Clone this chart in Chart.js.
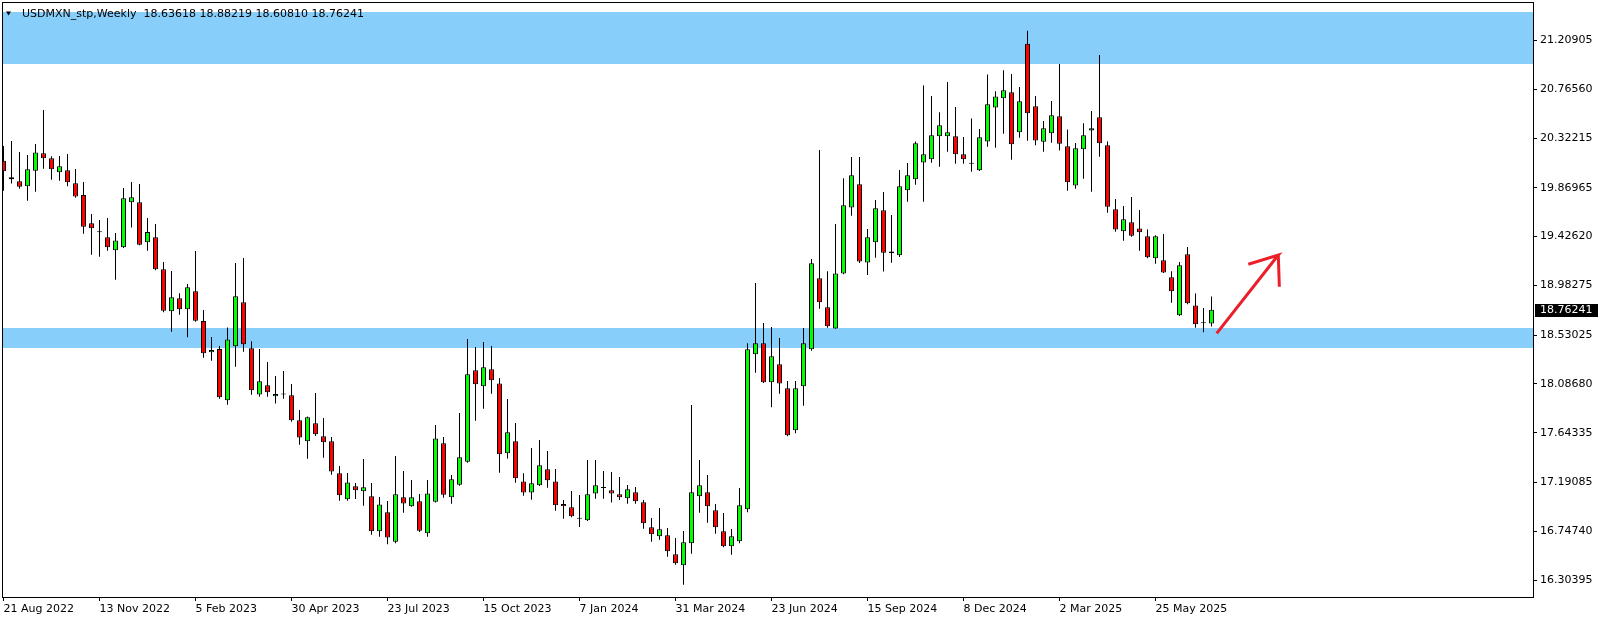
<!DOCTYPE html>
<html>
<head>
<meta charset="utf-8">
<title>USDMXN_stp,Weekly</title>
<script src="https://cdn.jsdelivr.net/npm/chart.js@4.4.0/dist/chart.umd.min.js"></script>
<style>
  html, body { margin: 0; padding: 0; background: #fff; }
  #wrap { width: 1604px; height: 622px; }
</style>
</head>
<body>
<div id="wrap"><canvas id="chart" width="1604" height="622"></canvas></div>
<script>
const symbolTitle = 'USDMXN_stp,Weekly';

// weekly candles, oldest first (21 Aug 2022 ... mid Jul 2025)
const opens = [
  20.117,19.965,19.929,19.883,20.026,20.183,20.138,20.011,20.029,19.911,
  19.805,19.547,19.465,19.420,19.302,19.329,19.738,19.738,19.374,19.420,
  19.129,18.747,18.865,18.765,18.929,18.659,18.374,18.405,17.938,18.429,
  18.829,18.411,17.992,18.074,17.974,17.992,17.983,17.756,17.565,17.729,
  17.611,17.565,17.274,17.038,17.156,17.111,17.065,16.747,16.920,16.653,
  17.056,16.974,17.020,16.729,17.017,17.547,17.056,17.171,17.380,18.211,
  18.065,18.220,18.092,17.456,17.565,17.201,17.101,17.165,17.311,17.201,
  16.995,16.965,16.862,16.847,17.092,17.141,17.120,17.083,17.047,17.102,
  17.011,16.783,16.702,16.711,16.538,16.438,16.638,17.065,17.102,16.938,
  16.747,16.611,16.656,16.947,18.356,18.456,18.102,18.265,18.047,17.665,
  18.065,18.402,19.047,18.783,18.592,19.092,19.692,19.902,19.192,19.374,
  19.665,19.274,19.256,19.847,19.947,20.101,20.129,20.338,20.338,20.338,
  20.174,20.089,20.029,20.292,20.601,20.683,20.738,20.374,21.180,20.611,
  20.289,20.365,20.520,20.247,19.892,20.220,20.392,20.511,20.256,19.674,
  19.474,19.556,19.501,19.429,19.229,19.211,19.056,18.711,19.265,18.801,
  18.638,18.63618
];
const highs = [
  20.250,20.295,20.195,20.168,20.268,20.577,20.156,20.159,20.177,20.041,
  19.923,19.632,19.577,19.595,19.459,19.868,19.923,19.905,19.595,19.541,
  19.195,19.114,18.911,18.995,19.295,18.759,18.514,18.432,18.601,19.186,
  19.232,18.474,18.405,18.286,18.159,18.205,18.086,17.850,17.792,18.004,
  17.777,17.604,17.341,17.277,17.186,17.405,17.186,17.059,17.023,17.432,
  17.295,17.214,17.086,17.214,17.714,17.605,17.259,17.823,18.495,18.423,
  18.468,18.432,18.141,17.950,17.732,17.274,17.505,17.577,17.477,17.314,
  17.032,17.114,17.077,17.395,17.395,17.295,17.286,17.241,17.168,17.150,
  17.032,16.868,16.959,16.777,16.686,16.750,17.895,17.395,17.259,16.995,
  16.914,16.768,17.141,18.456,19.005,18.641,18.605,18.505,18.114,18.114,
  18.595,19.223,20.214,19.111,19.541,19.956,20.150,20.150,19.495,19.759,
  19.832,19.623,20.032,20.095,20.292,20.801,20.704,20.556,20.832,20.604,
  20.332,20.501,20.404,20.901,20.747,20.938,20.904,20.786,21.298,20.704,
  20.477,20.659,20.995,20.401,20.277,20.456,20.568,21.077,20.292,19.768,
  19.705,19.786,19.668,19.492,19.438,19.450,19.111,19.195,19.332,18.908,
  18.777,18.88219
];
const lows = [
  19.844,19.908,19.862,19.753,19.835,20.044,19.944,19.935,19.883,19.780,
  19.453,19.262,19.244,19.298,19.035,19.323,19.508,19.347,19.298,19.120,
  18.738,18.562,18.717,18.511,18.653,18.326,18.298,17.953,17.898,18.244,
  18.380,17.989,17.971,17.971,17.908,17.953,17.744,17.535,17.407,17.614,
  17.417,17.262,17.026,17.026,17.041,16.980,16.717,16.698,16.629,16.638,
  16.917,16.971,16.741,16.698,17.008,17.053,16.998,17.162,17.371,17.753,
  17.862,17.998,17.280,17.408,17.189,17.071,17.035,17.159,17.144,16.935,
  16.862,16.874,16.786,16.842,17.044,17.044,17.008,17.032,16.998,16.998,
  16.771,16.653,16.671,16.517,16.444,16.262,16.544,16.917,16.826,16.726,
  16.602,16.535,16.638,16.920,18.189,18.095,17.874,17.998,17.611,17.638,
  17.889,18.389,18.771,18.598,18.588,19.085,19.617,19.186,19.077,19.235,
  19.108,19.189,19.241,19.744,19.898,19.744,20.098,20.062,20.198,20.089,
  20.089,20.017,20.022,20.244,20.235,20.362,20.126,20.326,20.298,20.256,
  20.198,20.280,20.208,19.844,19.862,19.953,19.835,20.153,19.644,19.471,
  19.389,19.426,19.298,19.229,19.180,19.095,18.826,18.705,18.811,18.598,
  18.556,18.60810
];
const closes = [
  20.020,19.947,19.880,20.038,20.192,20.138,20.038,20.065,19.920,19.792,
  19.517,19.502,19.465,19.329,19.392,19.774,19.783,19.353,19.468,19.129,
  18.753,18.874,18.765,18.965,18.662,18.365,18.395,17.965,18.492,18.883,
  18.447,18.029,18.111,18.011,17.995,17.992,17.756,17.601,17.783,17.629,
  17.556,17.292,17.074,17.192,17.120,17.147,16.747,16.992,16.692,17.083,
  17.001,17.056,16.753,17.092,17.592,17.080,17.220,17.420,18.174,18.083,
  18.238,18.120,17.447,17.647,17.229,17.101,17.183,17.347,17.211,16.983,
  16.974,16.883,16.862,17.083,17.165,17.141,17.092,17.056,17.129,17.020,
  16.820,16.720,16.765,16.565,16.456,16.647,17.102,17.165,16.974,16.783,
  16.611,16.702,16.983,18.402,18.456,18.102,18.338,18.092,17.620,18.047,
  18.456,19.183,18.829,18.611,19.092,19.711,19.983,19.199,19.420,19.683,
  19.280,19.292,19.883,19.983,20.274,20.174,20.347,20.438,20.374,20.174,
  20.129,20.089,20.329,20.629,20.701,20.756,20.265,20.656,20.547,20.301,
  20.411,20.529,20.271,19.920,20.229,20.347,20.411,20.274,19.698,19.492,
  19.583,19.435,19.465,19.238,19.429,19.101,18.929,19.165,18.820,18.629,
  18.638,18.76241
];

// time axis labels, one every 12 weeks
const xTickIndex = [0, 12, 24, 36, 48, 60, 72, 84, 96, 108, 120, 132, 144];
const xTickLabels = ['21 Aug 2022', '13 Nov 2022', '5 Feb 2023', '30 Apr 2023', '23 Jul 2023',
  '15 Oct 2023', '7 Jan 2024', '31 Mar 2024', '23 Jun 2024', '15 Sep 2024', '8 Dec 2024',
  '2 Mar 2025', '25 May 2025'];
const yTicks = [21.20905, 20.76560, 20.32215, 19.86965, 19.42620, 18.98275, 18.53025,
  18.08680, 17.64335, 17.19085, 16.74740, 16.30395];

// blue zones [low, high]
const zones = [[20.996, 21.468], [18.417, 18.594]];
// hand drawn arrow (week index, price)
const arrowX = [151.65, 159.35, 155.6, 157, 159.35, 159.48];
const arrowY = [18.547, 19.259, 19.175, null, 19.259, 18.971];

const bullColor = '#00ff00';
const bearColor = '#ff0000';
const last = closes.length - 1;

Chart.defaults.font.family = '"DejaVu Sans", Verdana, sans-serif';
Chart.defaults.font.size = 11;
Chart.defaults.color = '#000';

const zonePlugin = {
  id: 'zones',
  beforeDatasetsDraw(chart) {
    const {ctx, chartArea: a, scales: {y}} = chart;
    ctx.save();
    ctx.fillStyle = '#87cefa';
    zones.forEach(([lo, hi]) => {
      const top = Math.round(y.getPixelForValue(hi));
      const bot = Math.round(y.getPixelForValue(lo));
      ctx.fillRect(a.left, top, a.right - a.left, bot - top);
    });
    ctx.restore();
  }
};

const framePlugin = {
  id: 'frame',
  afterDraw(chart) {
    const {ctx, chartArea: a, scales: {y}} = chart;
    ctx.save();
    ctx.strokeStyle = '#000';
    ctx.lineWidth = 1;
    ctx.strokeRect(a.left - 0.5, a.top - 0.5, a.right - a.left + 1, a.bottom - a.top + 1);

    // title
    ctx.fillStyle = '#000';
    ctx.beginPath();
    ctx.moveTo(6, 11.5); ctx.lineTo(11, 11.5); ctx.lineTo(8.5, 15.5); ctx.closePath();
    ctx.fill();
    ctx.font = '11px "DejaVu Sans"';
    ctx.textBaseline = 'alphabetic';
    const ohlc = [opens[last], highs[last], lows[last], closes[last]].map(v => v.toFixed(5)).join(' ');
    ctx.fillText(symbolTitle + '  ' + ohlc, 22, 17);

    // current price label
    const yc = Math.round(y.getPixelForValue(closes[last]));
    ctx.fillRect(a.right + 2, yc - 6, 63, 13);
    ctx.fillStyle = '#fff';
    ctx.textBaseline = 'middle';
    ctx.fillText(closes[last].toFixed(5), a.right + 7, yc + 0.5);
    ctx.restore();
  }
};

const noPad = (s) => { s.paddingTop = 0; s.paddingBottom = 0; s.paddingLeft = 0; s.paddingRight = 0; };

const candleColors = closes.map((c, i) => c > opens[i] ? bullColor : (c < opens[i] ? bearColor : '#000'));

new Chart(document.getElementById('chart'), {
  type: 'bar',
  data: {
    datasets: [
      {
        type: 'line',
        order: 0,
        data: arrowX.map((x, i) => ({x: x, y: arrowY[i]})),
        borderColor: '#ea1f29',
        borderWidth: 3,
        pointRadius: 0,
        spanGaps: false,
        fill: false
      },
      {
        order: 1,
        data: opens.map((o, i) => ({x: i, y: [o, closes[i]]})),
        backgroundColor: candleColors,
        borderColor: '#000',
        borderWidth: 1,
        borderSkipped: false,
        grouped: false,
        maxBarThickness: 5,
        minBarLength: 1,
        clip: 0
      },
      {
        order: 2,
        data: lows.map((l, i) => ({x: i, y: [l, highs[i]]})),
        backgroundColor: '#000',
        borderWidth: 0,
        grouped: false,
        maxBarThickness: 1,
        clip: 0
      }
    ]
  },
  options: {
    responsive: false,
    animation: false,
    devicePixelRatio: 1,
    layout: {padding: {left: 3, top: 3, right: 0, bottom: 0}},
    plugins: {legend: {display: false}, tooltip: {enabled: false}},
    scales: {
      x: {
        type: 'linear',
        offset: false,
        min: -0.0625,
        max: 191.1875,
        border: {display: false},
        grid: {drawOnChartArea: false, drawTicks: true, tickLength: 4, color: '#000', offset: false},
        afterBuildTicks: (s) => { s.ticks = xTickIndex.map(v => ({value: v})); },
        afterFit: (s) => { s.height = 25; noPad(s); },
        ticks: {
          autoSkip: false,
          maxRotation: 0,
          align: 'start',
          padding: 2,
          callback: (v, idx) => xTickLabels[idx]
        }
      },
      y: {
        position: 'right',
        min: 16.15,
        max: 21.55,
        border: {display: false},
        grid: {drawOnChartArea: false, drawTicks: true, tickLength: 4, color: '#000'},
        afterBuildTicks: (s) => { s.ticks = yTicks.map(v => ({value: v})); },
        afterFit: (s) => { s.width = 71; noPad(s); },
        ticks: {
          autoSkip: false,
          padding: 3,
          callback: (v) => Number(v).toFixed(5)
        }
      }
    }
  },
  plugins: [zonePlugin, framePlugin]
});
</script>
</body>
</html>
